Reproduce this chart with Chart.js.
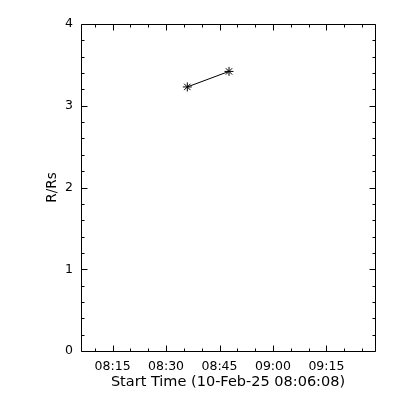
<!DOCTYPE html>
<html lang="en">
<head>
    <meta charset="UTF-8">
    <title>R/Rs vs Start Time</title>
    <script src="https://cdn.jsdelivr.net/npm/chart.js"></script>
    <style>
        body {
            margin: 0;
            background: white;
        }
        #chart {
            display: block;
        }
    </style>
</head>
<body>
    <canvas id="chart" width="400" height="400"></canvas>

    <script>
        // Data
        const startTime = '08:06:08';
        const startDate = '10-Feb-25';
        const pointTimes = ['08:35:58', '08:47:40'];
        const heights = [3.23, 3.42];
        const xTickLabels = ['08:15', '08:30', '08:45', '09:00', '09:15'];
        const yTickValues = [0, 1, 2, 3, 4];

        // seconds since the start time
        function toSec(t) {
            const p = t.split(':').map(Number);
            const s = p[0] * 3600 + p[1] * 60 + (p[2] || 0);
            const p0 = startTime.split(':').map(Number);
            return s - (p0[0] * 3600 + p0[1] * 60 + p0[2]);
        }

        const points = pointTimes.map((t, i) => ({ x: toSec(t), y: heights[i] }));
        const xMajor = xTickLabels.map(toSec);

        // IDL style frame: box on all four sides, ticks pointing inward
        const idlFrame = {
            id: 'idlFrame',
            afterDraw(chart) {
                const { ctx, chartArea: a, scales: { x, y } } = chart;
                const px = v => Math.round(v) + 0.5;
                const L = px(a.left), R = px(a.right), T = px(a.top), B = px(a.bottom);
                ctx.save();
                ctx.strokeStyle = '#000';
                ctx.lineWidth = 1;
                ctx.beginPath();
                ctx.rect(L, T, R - L, B - T);

                const majorLen = 6, minorLen = 3;
                // x ticks: minor every 5 minutes, major at the labels
                for (let s = xMajor[0] - 1800; s <= x.max; s += 300) {
                    if (s < x.min) continue;
                    const len = xMajor.includes(s) ? majorLen : minorLen;
                    const xx = px(x.getPixelForValue(s));
                    ctx.moveTo(xx, B); ctx.lineTo(xx, B - len);
                    ctx.moveTo(xx, T); ctx.lineTo(xx, T + len);
                }
                // y ticks: minor every 0.2
                for (let i = 0; i <= 20; i++) {
                    const v = i / 5;
                    const len = i % 5 === 0 ? majorLen : minorLen;
                    const yy = px(y.getPixelForValue(v));
                    ctx.moveTo(L, yy); ctx.lineTo(L + len, yy);
                    ctx.moveTo(R, yy); ctx.lineTo(R - len, yy);
                }
                ctx.stroke();
                ctx.restore();
            }
        };

        const ctx = document.getElementById('chart').getContext('2d');
        const chart = new Chart(ctx, {
            type: 'scatter',
            data: {
                datasets: [{
                    data: points,
                    showLine: true,
                    borderColor: '#000',
                    backgroundColor: '#000',
                    borderWidth: 1,
                    pointStyle: 'star',
                    pointRadius: 4.5,
                    pointBorderWidth: 1,
                    pointBorderColor: '#000'
                }]
            },
            options: {
                responsive: false,
                animation: false,
                layout: {
                    padding: { top: 24, right: 25, left: 0, bottom: 0 }
                },
                plugins: {
                    legend: { display: false },
                    tooltip: { enabled: false }
                },
                scales: {
                    x: {
                        type: 'linear',
                        min: 0,
                        max: 4950,
                        afterFit: s => { s.height = 49; },
                        afterBuildTicks: s => { s.ticks = xMajor.map(v => ({ value: v })); },
                        grid: { display: false },
                        border: { display: false },
                        ticks: {
                            color: '#000',
                            padding: 0,
                            maxRotation: 0,
                            autoSkip: false,
                            font: { family: 'DejaVu Sans', size: 12.5 },
                            callback: (v, i) => xTickLabels[i]
                        },
                        title: {
                            display: true,
                            text: 'Start Time (' + startDate + ' ' + startTime + ')',
                            color: '#000',
                            font: { family: 'DejaVu Sans', size: 14.5 },
                            padding: { top: 0, bottom: 9 }
                        }
                    },
                    y: {
                        min: 0,
                        max: 4,
                        afterFit: s => { s.width = 81; },
                        afterBuildTicks: s => { s.ticks = yTickValues.map(v => ({ value: v })); },
                        grid: { display: false },
                        border: { display: false },
                        ticks: {
                            color: '#000',
                            padding: 0,
                            font: { family: 'DejaVu Sans', size: 12.5 }
                        },
                        title: {
                            display: true,
                            text: 'R/Rs',
                            color: '#000',
                            font: { family: 'DejaVu Sans', size: 13.5 },
                            padding: { top: 44, bottom: 0 }
                        }
                    }
                }
            },
            plugins: [idlFrame]
        });
    </script>
</body>
</html>
